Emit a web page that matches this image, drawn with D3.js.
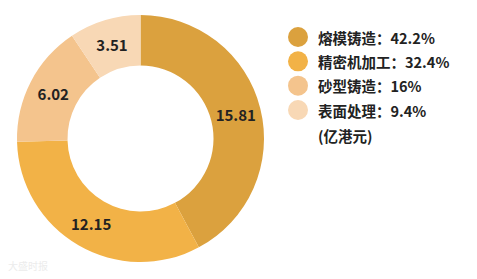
<!DOCTYPE html>
<html><head><meta charset="utf-8">
<script src="https://cdn.jsdelivr.net/npm/d3@7"></script>
<style>body{margin:0;background:#fff}svg{display:block}</style>
</head><body>
<svg id="c" width="477" height="279"></svg>
<script>
const categories = ["熔模铸造","精密机加工","砂型铸造","表面处理"];
const values = [15.81, 12.15, 6.02, 3.51];
const percents = ["42.2%","32.4%","16%","9.4%"];
const colors = ["#DBA13E","#F2B247","#F4C48D","#F8D8B5"];
const unitLabel = "(亿港元)";

const svg = d3.select("#c");
const font = "'Noto Sans CJK SC','Noto Sans',sans-serif";
const cx = 140.5, cy = 138.5, rOut = 123.5, rIn = 73;
const pie = d3.pie().sort(null).value(d => d)(values);
const arc = d3.arc().innerRadius(rIn).outerRadius(rOut);
const g = svg.append("g").attr("transform", `translate(${cx},${cy})`);
g.selectAll("path").data(pie).join("path").attr("d", arc).attr("fill", (d,i) => colors[i]);
g.selectAll("text").data(pie).join("text")
  .attr("transform", d => `translate(${arc.centroid(d)})`)
  .attr("text-anchor","middle").attr("dominant-baseline","central")
  .attr("font-family", font).attr("font-size", 15).attr("font-weight", "bold")
  .attr("fill", "#222").text(d => d.data.toFixed(2));

const leg = svg.append("g");
const rowY = d3.scalePoint().domain(d3.range(categories.length)).range([37, 110]);
categories.forEach((c, i) => {
  const y = rowY(i);
  leg.append("circle").attr("cx", 298).attr("cy", y).attr("r", 10).attr("fill", colors[i]);
  leg.append("text").attr("x", 318).attr("y", y).attr("dominant-baseline","central")
    .attr("font-family", font).attr("font-size", 14.5).attr("font-weight","bold").attr("fill","#222")
    .text(c + "：" + percents[i]);
});
leg.append("text").attr("x", 318).attr("y", 135).attr("dominant-baseline","central")
  .attr("font-family", font).attr("font-size", 14.5).attr("font-weight","bold").attr("fill","#222")
  .text(unitLabel);
svg.append("text").attr("x", 8).attr("y", 270).attr("font-family", font).attr("font-size", 10)
  .attr("fill", "#ececec").text("大盛时报");
</script>
</body></html>
